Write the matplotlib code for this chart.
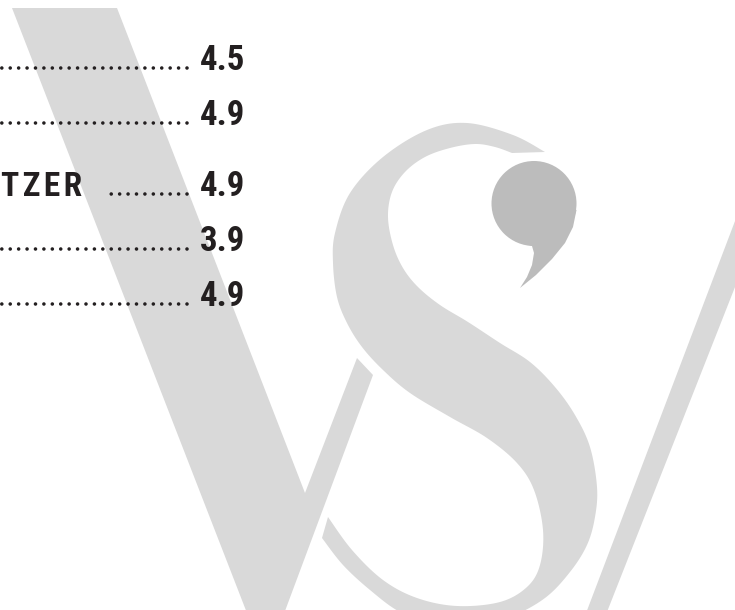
import numpy as np
import matplotlib
matplotlib.use("Agg")
import matplotlib.pyplot as plt
from matplotlib.patches import Polygon, Circle
from matplotlib import font_manager as fm

# ---------------- data ----------------
scores = [4.5, 4.9, 4.9, 3.9, 4.9]
labels = ["", "", "TZER", "", ""]

# ---------------- layout (pixels) ----------------
W, H = 735, 610
row_baseline = [70.5, 125, 196, 251, 306.5]
value_x = 200
dots_end = 187
label_left = 1
TEXT = "#231f20"
LIGHT = "#d9d9d9"
DARK = "#bcbcbc"

installed = {f.name for f in fm.fontManager.ttflist}
narrow_pref = ["Roboto Condensed", "Liberation Sans Narrow", "Noto Sans Condensed",
               "Open Sans Condensed", "DejaVu Sans Condensed", "Noto Sans ExtraCondensed"]
narrow = [n for n in narrow_pref if n in installed]
if not narrow:
    narrow = sorted(n for n in installed if ("Condensed" in n or "Narrow" in n))
FONT = narrow[:1] + ["Liberation Sans", "DejaVu Sans"]
IS_NARROW = bool(narrow)


def catmull(points, n=12):
    p = np.asarray(points, float)
    p = np.vstack([p[0], p, p[-1]])
    out = []
    for i in range(1, len(p) - 2):
        p0, p1, p2, p3 = p[i - 1], p[i], p[i + 1], p[i + 2]
        t = np.linspace(0, 1, n, endpoint=False)[:, None]
        seg = 0.5 * ((2 * p1) + (-p0 + p2) * t + (2 * p0 - 5 * p1 + 4 * p2 - p3) * t ** 2
                     + (-p0 + 3 * p1 - 3 * p2 + p3) * t ** 3)
        out.append(seg)
    out.append(p[-2][None, :])
    return np.vstack(out)


# logo outlines (decorative watermark)
v_shape = [(12, 8), (117, 8), (305, 493), (357, 358), (373, 375), (266, 662)]
slash_shape = [(762, 150), (789, 150), (592, 650), (572, 650)]
s_chain_a = [(545, 152), (513, 135), (467, 123), (427, 130), (383, 157), (350, 193), (335, 233),
             (333, 263), (337, 297), (347, 323), (362, 347), (383, 370), (410, 393), (450, 417),
             (487, 438), (517, 463), (534, 490), (543, 530), (540, 565), (527, 587), (500, 602),
             (457, 606), (417, 598), (383, 580), (352, 550), (328, 517)]
s_chain_b = [(322, 538), (343, 565), (370, 590), (400, 612), (435, 624), (470, 627), (510, 617),
             (545, 598), (570, 572), (587, 545), (595, 517), (597, 487), (590, 447), (575, 415),
             (555, 387), (530, 362), (500, 343), (468, 322), (440, 305), (418, 287), (403, 268),
             (393, 245), (388, 217), (392, 192), (405, 172), (425, 157), (450, 148), (475, 144),
             (495, 147), (512, 153)]
comma_center = (534, 203.5)
comma_r = 42.5
comma_tail = [(522, 243), (532, 246), (534, 253), (532, 265), (527, 277), (520, 288), (536, 275),
              (552, 259), (565, 243), (573, 227), (576.5, 210), (555, 205), (528, 225)]

fig = plt.figure(figsize=(W / 100, H / 100), dpi=100)
ax = fig.add_axes([0, 0, 1, 1])
ax.set_xlim(0, W)
ax.set_ylim(H, 0)
ax.axis("off")

ax.add_patch(Polygon(v_shape, closed=True, fc=LIGHT, ec="none", zorder=1))
ax.add_patch(Polygon(slash_shape, closed=True, fc=LIGHT, ec="none", zorder=1))
s_outline = np.vstack([catmull(s_chain_a), catmull(s_chain_b)])
ax.add_patch(Polygon(s_outline, closed=True, fc="white", ec="white", lw=5, zorder=2))
ax.add_patch(Polygon(s_outline, closed=True, fc=LIGHT, ec="none", zorder=3))
ax.add_patch(Circle(comma_center, comma_r, fc=DARK, ec="none", zorder=4))
ax.add_patch(Polygon(comma_tail, closed=True, fc=DARK, ec="none", zorder=4))

num_size = 25 if IS_NARROW else 22
lab_size = 24 if IS_NARROW else 20
lab_sep = "\u200a" if IS_NARROW else ""

for i, (val, lab) in enumerate(zip(scores, labels)):
    yb = row_baseline[i]
    ax.text(value_x, yb, f"{val:.1f}", ha="left", va="baseline", fontsize=num_size,
            fontweight="bold", color=TEXT, family=FONT, zorder=6)
    if lab:
        ax.text(label_left, yb, lab_sep.join(lab), ha="left", va="baseline",
                fontsize=lab_size, fontweight="bold", color=TEXT, family=FONT, zorder=6)
        start = 108
    else:
        start = -20
    ax.plot([dots_end, start], [yb - 2.5, yb - 2.5], color=TEXT, lw=2.6,
            linestyle=(0, (0.001, 2.33)), dash_capstyle="round", zorder=5)

fig.savefig("out.png", dpi=100)
